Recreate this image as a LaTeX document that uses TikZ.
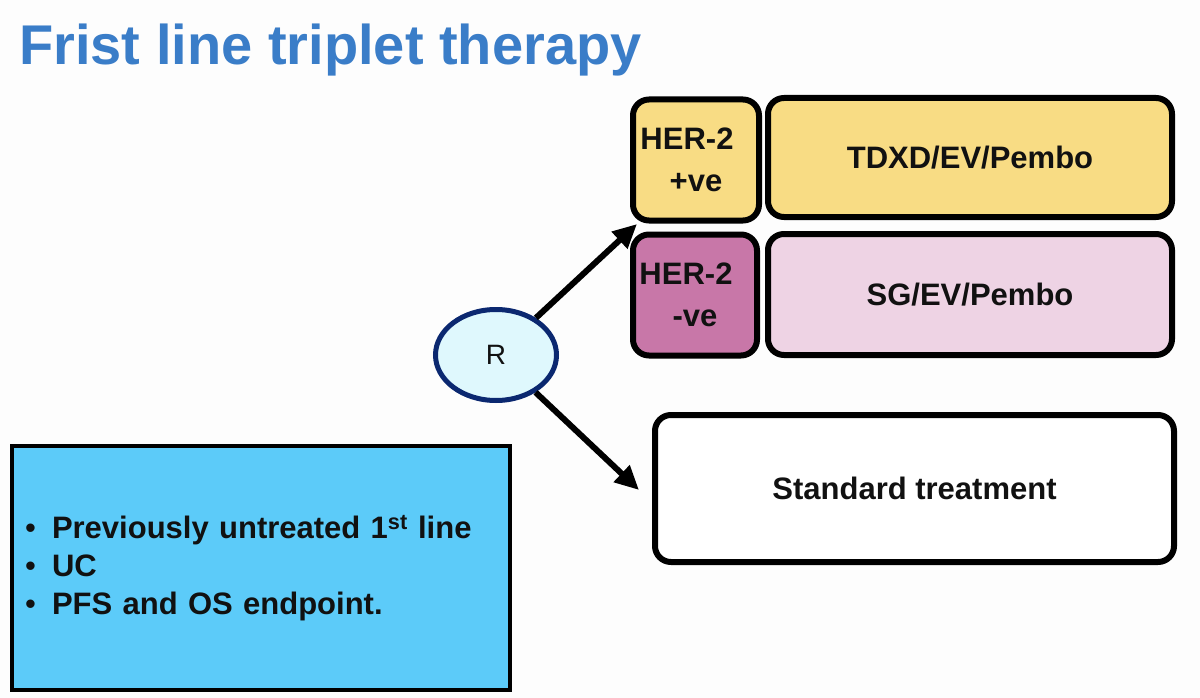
\documentclass[tikz,border=0pt]{standalone}
\usepackage{fontspec}
\setmainfont{Liberation Sans}
\usetikzlibrary{arrows.meta,shapes.geometric}
\definecolor{bgc}{HTML}{FDFDFD}
\definecolor{titleblue}{HTML}{3A7DC8}
\definecolor{yel}{HTML}{F8DC84}
\definecolor{mag}{HTML}{C877A8}
\definecolor{lpink}{HTML}{EED3E4}
\definecolor{cyanbox}{HTML}{5CCBF9}
\definecolor{rfill}{HTML}{DFF8FD}
\definecolor{navy}{HTML}{0B2870}
\definecolor{ink}{HTML}{111111}
\tikzset{
  armbox/.style={draw=black, line width=6pt, rounded corners=16pt, inner sep=0pt,
    text=ink, font=\bfseries\fontsize{31}{42}\selectfont, align=center},
  arrowline/.style={line width=6pt, -{Triangle[length=24pt,width=22pt]}},
}
\begin{document}
\begin{tikzpicture}[x=1pt,y=-1pt]
\fill[bgc] (0,0) rectangle (1200,698);
\useasboundingbox (0,0) rectangle (1200,698);
\node[anchor=base west, inner sep=0pt, text=titleblue, font=\bfseries\fontsize{56}{60}\selectfont] (title) at (19,65) {Frist line triplet therapy};
\node[armbox, fill=yel, minimum width=126pt, minimum height=121pt] (her2p) at (696,160) {HER-2\hspace*{18pt}\\+ve};
\node[armbox, fill=yel, minimum width=404pt, minimum height=119pt] (tdxd) at (970,157.5) {TDXD/EV/Pembo};
\node[armbox, fill=mag, minimum width=124pt, minimum height=121pt] (her2n) at (695,295) {HER-2\hspace*{18pt}\\-ve};
\node[armbox, fill=lpink, minimum width=404pt, minimum height=121pt] (sg) at (970,294.5) {SG/EV/Pembo};
\node[armbox, fill=white, minimum width=519pt, minimum height=147pt] (std) at (914.5,488.5) {Standard treatment};
\node[ellipse, draw=navy, line width=5pt, fill=rfill, minimum width=121pt, minimum height=91pt, inner sep=0pt, text=ink, font=\fontsize{28}{30}\selectfont] (R) at (496,355) {R};
\node[draw=black, line width=4pt, fill=cyanbox, minimum width=498pt, minimum height=244pt, inner xsep=13pt, text width=472pt, align=left, text=ink, font=\bfseries\fontsize{31}{38}\selectfont] (crit) at (261,568) {\makebox[27pt][l]{\mdseries\textbullet}Previously untreated 1\textsuperscript{st} line\\\makebox[27pt][l]{\mdseries\textbullet}UC\\\makebox[27pt][l]{\mdseries\textbullet}PFS and OS endpoint.};
\coordinate (a1) at (637,224);
\coordinate (a2) at (639,490);
\draw[arrowline] (R) -- (a1);
\draw[arrowline] (R) -- (a2);
\end{tikzpicture}
\end{document}
